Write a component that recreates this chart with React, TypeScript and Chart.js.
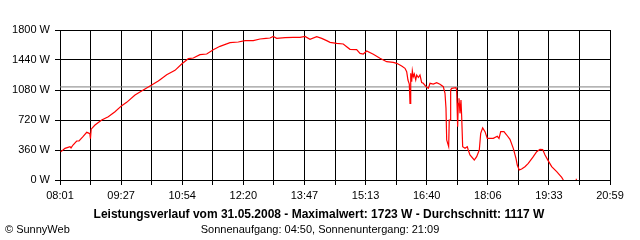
import React, { useEffect, useRef } from "react";
import { Chart, registerables } from "chart.js";

Chart.register(...registerables);

// Minutes after midnight for each sample of the red power curve
const timeMinutes = [
  482, 485.2, 488.1, 492.3, 495.1, 496.6, 499.4, 504.6, 507.9, 513.5, 518.8, 522.4, 523.2, 524.1, 525.1,
  530.5, 540, 549.3, 558.8, 568.3, 575.3, 587.1, 598.8, 610.7, 620, 622.5, 631.9, 643.7, 653.1, 662.5,
  669.6, 679, 688.5, 697.8, 707.3, 721.5, 733.2, 742.7, 754.4, 763.9, 772.4, 778, 782.7, 787.5, 799.3,
  811, 820.5, 827.6, 834.6, 844.1, 851.2, 858.2, 863, 872.4, 881.7, 886.5, 891.2, 900.6, 905.4, 910,
  914.8, 924.2, 933.6, 943.1, 952.4, 957.3, 964.3, 969, 971.4, 973.2, 975.1, 976.1, 977.1, 978.5, 979.4,
  980.8, 982.2, 984.2, 985.6, 987.9, 990.2, 992.6, 994.9, 998.7, 1002, 1004.4, 1009, 1013.8, 1018.5, 1023.2,
  1025.6, 1027, 1028, 1030.8, 1031.6, 1032.9, 1033.6, 1035, 1041.1, 1042.1, 1043.5, 1044.4, 1045.4, 1046.8,
  1048.2, 1049.2, 1050.6, 1053.9, 1057.1, 1058.5, 1060.9, 1067, 1070.4, 1074.1, 1076.1, 1078.9, 1082.2,
  1085.4, 1093.9, 1099.6, 1102, 1104.4, 1109, 1112.9, 1117.5, 1122.2, 1126, 1127.8, 1130.6, 1134, 1138.7,
  1143.4, 1150.5, 1155.3, 1160, 1163.8, 1167.1, 1171.7, 1176.5, 1183.6, 1190.7, 1193, 1200, 1210.5, 1212.2,
];

// Power in watts at each sample (null = gap)
const powerW: (number | null)[] = [
  340, 360, 380, 392, 400, 385, 420, 468, 470, 520, 572, 560, 555, 495, 610,
  660, 720, 760, 820, 892, 932, 1020, 1080, 1140, 1188, 1204, 1264, 1316, 1392, 1456,
  1464, 1504, 1512, 1564, 1604, 1648, 1656, 1672, 1672, 1692, 1700, 1704, 1723, 1700, 1708,
  1712, 1712, 1723, 1688, 1720, 1700, 1672, 1652, 1640, 1632, 1600, 1568, 1564, 1520, 1512,
  1548, 1508, 1460, 1420, 1412, 1400, 1368, 1340, 1300, 1200, 1150, 920, 1280, 1180, 1310,
  1240, 1272, 1200, 1260, 1230, 1260, 1170, 1160, 1120, 1100, 1160, 1150, 1168, 1148, 1120,
  1040, 860, 480, 400, 720, 720, 1080, 1100, 1108, 1080, 640, 920, 980, 800,
  960, 760, 400, 380, 400, 360, 300, 240, 280, 360, 560, 625, 580,
  500, 500, 525, 500, 580, 580, 540, 488, 380, 260, 180, 120, 132, 160,
  200, 280, 340, 368, 365, 300, 230, 160, 100, 32, 0, null, 8, 8,
];

const xTickLabels = ["08:01", "09:27", "10:54", "12:20", "13:47", "15:13", "16:40", "18:06", "19:33", "20:59"];
const yTickValues = [0, 360, 720, 1080, 1440, 1800];
const averageW = 1117;

const titleText = "Leistungsverlauf vom 31.05.2008 - Maximalwert: 1723 W - Durchschnitt: 1117 W";
const subtitleText = "Sonnenaufgang: 04:50, Sonnenuntergang: 21:09";
const creditText = "© SunnyWeb";

function toMin(s: string): number {
  const [h, m] = s.split(":").map(Number);
  return h * 60 + m;
}

const xMin = toMin(xTickLabels[0]);
const xMax = toMin(xTickLabels[xTickLabels.length - 1]);
const xGridCount = (xTickLabels.length - 1) * 2;

const FONT = '"Liberation Sans", Arial, sans-serif';

const footerPlugin = {
  id: "footerTexts",
  afterDraw(chart: any) {
    const ctx = chart.ctx as CanvasRenderingContext2D;
    ctx.save();
    ctx.fillStyle = "#000";
    ctx.textBaseline = "alphabetic";
    ctx.textAlign = "center";
    ctx.font = `bold 12px ${FONT}`;
    ctx.fillText(titleText, 319, 218);
    ctx.font = `11px ${FONT}`;
    ctx.fillText(subtitleText, 320, 233);
    ctx.textAlign = "left";
    ctx.fillText(creditText, 5, 233);
    ctx.restore();
  },
};

export default function App() {
  const canvasRef = useRef<HTMLCanvasElement | null>(null);

  useEffect(() => {
    if (!canvasRef.current) return;
    const points = timeMinutes.map((t, i) => ({ x: t, y: powerW[i] }));
    const chart = new Chart(canvasRef.current, {
      type: "line",
      data: {
        datasets: [
          {
            data: points as any,
            borderColor: "#ff0000",
            borderWidth: 1.2,
            pointRadius: 0,
            tension: 0,
            spanGaps: false,
            order: 1,
          },
          {
            data: [
              { x: xMin, y: averageW },
              { x: xMax, y: averageW },
            ],
            borderColor: "#808080",
            borderWidth: 1,
            pointRadius: 0,
            order: 2,
          },
        ],
      },
      options: {
        animation: false,
        responsive: false,
        layout: { padding: { top: 30, right: 30, left: 0, bottom: 0 } },
        plugins: {
          legend: { display: false },
          tooltip: { enabled: false },
        },
        scales: {
          x: {
            type: "linear",
            min: xMin,
            max: xMax,
            afterBuildTicks: (scale: any) => {
              scale.ticks = Array.from({ length: xGridCount + 1 }, (_, i) => ({
                value: xMin + (i * (xMax - xMin)) / xGridCount,
              }));
            },
            afterFit: (scale: any) => {
              scale.height = 60;
            },
            grid: { color: "#000", lineWidth: 1, tickLength: 5, tickColor: "#000" },
            border: { color: "#000", width: 1 },
            ticks: {
              autoSkip: false,
              maxRotation: 0,
              padding: 4,
              color: "#000",
              font: { family: FONT, size: 11 },
              callback: (_v: any, i: number) => (i % 2 === 0 ? xTickLabels[i / 2] : ""),
            },
          },
          y: {
            min: 0,
            max: 1800,
            afterBuildTicks: (scale: any) => {
              scale.ticks = yTickValues.map((v) => ({ value: v }));
            },
            afterFit: (scale: any) => {
              scale.width = 60;
            },
            grid: { color: "#000", lineWidth: 1, tickLength: 5, tickColor: "#000" },
            border: { color: "#000", width: 1 },
            ticks: {
              padding: 5,
              color: "#000",
              font: { family: FONT, size: 11 },
              callback: (v: any) => `${v} W`,
            },
          },
        },
      },
      plugins: [footerPlugin],
    });
    return () => chart.destroy();
  }, []);

  return (
    <div style={{ position: "absolute", left: 0, top: 0, width: 640, height: 240, background: "#fff" }}>
      <canvas ref={canvasRef} width={640} height={240} />
    </div>
  );
}
